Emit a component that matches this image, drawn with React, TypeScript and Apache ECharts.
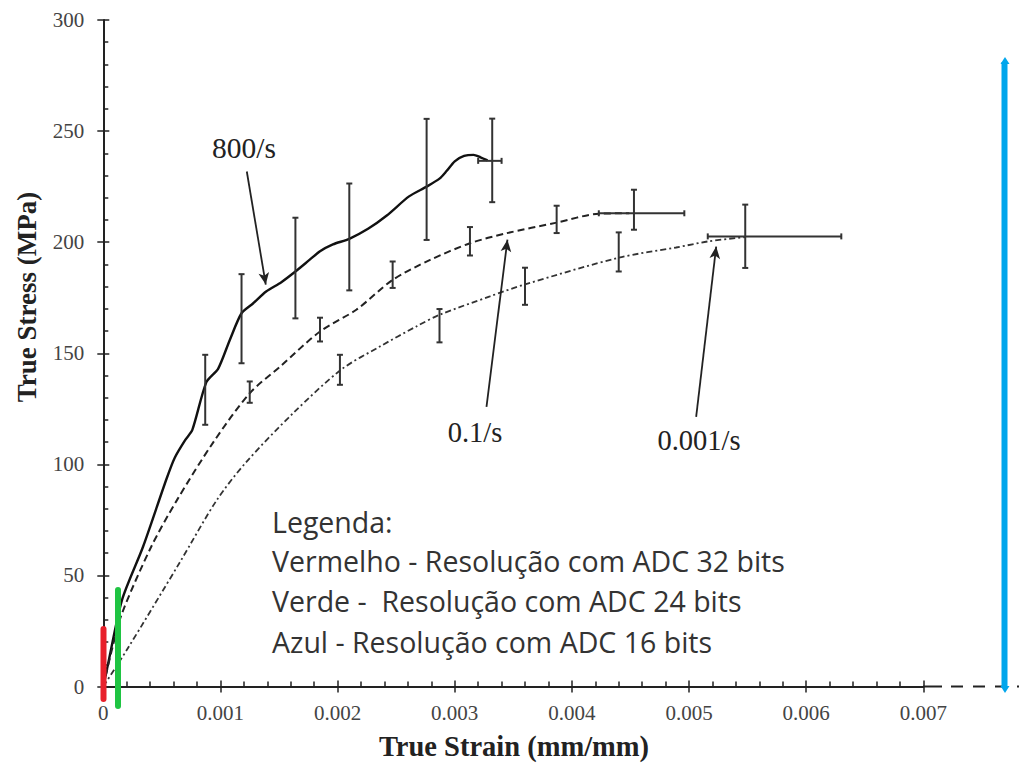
import React, { useEffect, useRef } from "react";
import * as echarts from "echarts";

// ---- data (strain in mm/mm, stress in MPa) ----
const s800X = [0, 0.00004, 0.00016, 0.00034, 0.00054, 0.00061, 0.0007, 0.00076, 0.00088, 0.00098, 0.00108, 0.00118, 0.00128, 0.00139, 0.00152, 0.00164, 0.00176, 0.00185, 0.00196, 0.0021, 0.00226, 0.00242, 0.00261, 0.00276, 0.00287, 0.00293, 0.003, 0.00308, 0.00316, 0.00322, 0.00328];
const s800Y = [0, 10, 39, 63, 93.5, 103, 111, 115.5, 137, 143, 156, 168, 172.5, 177.8, 182, 186.8, 192, 195.9, 199, 201.5, 206, 212, 220.6, 225, 228.6, 232, 236.4, 238.8, 239.3, 238.2, 236.8];

const s01X = [0, 0.00008, 0.00016, 0.00041, 0.00063, 0.00094, 0.00125, 0.00151, 0.00185, 0.00216, 0.00247, 0.00279, 0.00313, 0.00344, 0.00387, 0.00423, 0.00449];
const s01Y = [0, 18, 33, 63, 84, 110, 132, 144, 159.8, 169.6, 183, 192, 199.5, 204, 208.8, 212.8, 213];

const s001X = [0, 0.0002, 0.00065, 0.00097, 0.00122, 0.00162, 0.00203, 0.00236, 0.00267, 0.00287, 0.0033, 0.0036, 0.0044, 0.00489, 0.00517, 0.00548];
const s001Y = [0, 16.4, 55.6, 84, 101, 123, 142.6, 153, 162, 167.3, 175.6, 181, 193, 197.6, 200.4, 202.3];

// vertical error bars: strain, low, high
const err800 = [[0.00087, 117.8, 149.3], [0.00118, 145.5, 185.6], [0.00164, 165.7, 211], [0.0021, 178.3, 226.4], [0.00276, 201, 255.5], [0.00332, 218, 255.6]];
const err01 = [[0.00125, 127.7, 137.3], [0.00185, 155.3, 166], [0.00247, 179.4, 191.3], [0.00313, 194, 206.8], [0.00387, 204.1, 216.4], [0.00453, 205.6, 223.6]];
const err001 = [[0.00202, 135.8, 149.3], [0.00287, 154.9, 169.9], [0.0036, 171.8, 188.5], [0.0044, 186.8, 204.4], [0.00548, 188.4, 216.9]];
// horizontal error bars: stress, left strain, right strain
const errH = [[236.6, 0.0032, 0.0034], [213, 0.00423, 0.00496], [202.6, 0.00516, 0.0063]];

// annotation arrows [from, to] in data coords
const arrow800 = [[0.001225, 231.8], [0.001387, 180.9]];
const arrow01 = [[0.003271, 125.9], [0.00345, 201.1]];
const arrow001 = [[0.005061, 121.4], [0.005232, 198]];

const xTicks = ["0", "0.001", "0.002", "0.003", "0.004", "0.005", "0.006", "0.007"];
const legendLines = [
  "Legenda:",
  "Vermelho - Resolução com ADC 32 bits",
  "Verde -  Resolução com ADC 24 bits",
  "Azul - Resolução com ADC 16 bits",
];

const zip = (xs: number[], ys: number[]) => xs.map((x, i) => [x, ys[i]]);

const SERIF = "'Liberation Serif', 'Times New Roman', serif";
const INK = "#222";

function vErr(params: any, api: any) {
  const x = api.value(0);
  const lo = api.coord([x, api.value(1)]);
  const hi = api.coord([x, api.value(2)]);
  const c = 3;
  const st = { stroke: "#333", lineWidth: 2 };
  return {
    type: "group",
    children: [
      { type: "line", shape: { x1: lo[0], y1: lo[1], x2: hi[0], y2: hi[1] }, style: st },
      { type: "line", shape: { x1: lo[0] - c, y1: lo[1], x2: lo[0] + c, y2: lo[1] }, style: st },
      { type: "line", shape: { x1: hi[0] - c, y1: hi[1], x2: hi[0] + c, y2: hi[1] }, style: st },
    ],
  };
}
function hErr(params: any, api: any) {
  const y = api.value(0);
  const l = api.coord([api.value(1), y]);
  const r = api.coord([api.value(2), y]);
  const c = 3;
  const st = { stroke: "#333", lineWidth: 2 };
  return {
    type: "group",
    children: [
      { type: "line", shape: { x1: l[0], y1: l[1], x2: r[0], y2: r[1] }, style: st },
      { type: "line", shape: { x1: l[0], y1: l[1] - c, x2: l[0], y2: l[1] + c }, style: st },
      { type: "line", shape: { x1: r[0], y1: r[1] - c, x2: r[0], y2: r[1] + c }, style: st },
    ],
  };
}

const arrowLine = (a: number[][]) => ({
  silent: true,
  symbol: ["none", "arrow"],
  symbolSize: [8, 12],
  label: { show: false },
  lineStyle: { color: INK, width: 1.8, type: "solid" },
  data: [[{ coord: a[0] }, { coord: a[1] }]],
});

export default function App() {
  const ref = useRef<HTMLDivElement>(null);
  useEffect(() => {
    if (!ref.current) return;
    const chart = echarts.init(ref.current, null, { renderer: "svg" });
    const xBase = {
      type: "value",
      min: 0,
      max: 0.007,
      interval: 0.001,
      splitLine: { show: false },
    };
    const yBase = {
      type: "value",
      min: 0,
      max: 300,
      interval: 50,
      splitLine: { show: false },
    };
    chart.setOption({
      animation: false,
      backgroundColor: "#fff",
      grid: { left: 103.3, right: 95.7, top: 20, bottom: 78.5, containLabel: false },
      xAxis: [
        {
          ...xBase,
          axisLine: { show: true, lineStyle: { color: INK, width: 2 } },
          axisTick: { show: true, inside: true, length: 6, lineStyle: { color: INK, width: 1.5 } },
          minorTick: { show: true, splitNumber: 5, length: 5, lineStyle: { color: INK, width: 1.5 } },
          axisLabel: {
            margin: 16,
            color: "#444",
            fontFamily: SERIF,
            fontSize: 21,
            formatter: (v: number) => xTicks[Math.round(v / 0.001)] ?? "",
          },
        },
        {
          ...xBase,
          position: "bottom",
          axisLine: { show: false },
          axisTick: { show: true, inside: false, length: 6, lineStyle: { color: INK, width: 1.5 } },
          axisLabel: { show: false },
        },
      ],
      yAxis: [
        {
          ...yBase,
          axisLine: { show: true, lineStyle: { color: INK, width: 2 } },
          axisTick: { show: true, inside: true, length: 6, lineStyle: { color: INK, width: 1.5 } },
          minorTick: { show: true, splitNumber: 5, length: 5, lineStyle: { color: INK, width: 1.5 } },
          axisLabel: { margin: 19, color: "#444", fontFamily: SERIF, fontSize: 21 },
        },
        {
          ...yBase,
          position: "left",
          axisLine: { show: false },
          axisTick: { show: true, inside: false, length: 6, lineStyle: { color: INK, width: 1.5 } },
          axisLabel: { show: false },
        },
      ],
      series: [
        {
          type: "line",
          name: "800/s",
          data: zip(s800X, s800Y),
          showSymbol: false,
          smooth: 0.25,
          lineStyle: { color: "#111", width: 2.4 },
          markLine: arrowLine(arrow800),
          z: 3,
        },
        {
          type: "line",
          name: "0.1/s",
          data: zip(s01X, s01Y),
          showSymbol: false,
          smooth: 0.3,
          lineStyle: { color: "#222", width: 2, type: [7, 4] },
          markLine: arrowLine(arrow01),
          z: 3,
        },
        {
          type: "line",
          name: "0.001/s",
          data: zip(s001X, s001Y),
          showSymbol: false,
          smooth: 0.3,
          lineStyle: { color: "#333", width: 1.8, type: [6, 3, 2, 3] },
          markLine: arrowLine(arrow001),
          z: 3,
        },
        { type: "custom", data: [...err800, ...err01, ...err001], renderItem: vErr, encode: { x: 0, y: [1, 2] }, z: 4 },
        { type: "custom", data: errH, renderItem: hErr, encode: { x: [1, 2], y: 0 }, z: 4 },
      ],
      graphic: [
        // axis titles
        {
          type: "text",
          x: 514,
          y: 732,
          style: { text: "True Strain (mm/mm)", font: `bold 28.5px ${SERIF}`, fill: INK, align: "center", verticalAlign: "top" },
        },
        {
          type: "text",
          x: 27,
          y: 297,
          rotation: Math.PI / 2,
          style: { text: "True Stress (MPa)", font: `bold 27px ${SERIF}`, fill: INK, align: "center", verticalAlign: "middle" },
        },
        // curve labels
        { type: "text", x: 244, y: 148, style: { text: "800/s", font: `29.5px ${SERIF}`, fill: INK, align: "center", verticalAlign: "middle" } },
        { type: "text", x: 475, y: 432, style: { text: "0.1/s", font: `28.5px ${SERIF}`, fill: INK, align: "center", verticalAlign: "middle" } },
        { type: "text", x: 699, y: 440, style: { text: "0.001/s", font: `28.5px ${SERIF}`, fill: INK, align: "center", verticalAlign: "middle" } },
        // legend text
        ...legendLines.map((t, i) => ({
          type: "text",
          x: 272,
          y: [522, 561, 601, 642][i],
          style: { text: t, font: `28.5px 'Open Sans', sans-serif`, fill: "#333", align: "left", verticalAlign: "middle" },
        })),
        // x axis extension
        { type: "line", shape: { x1: 923, y1: 686.5, x2: 942, y2: 686.5 }, style: { stroke: INK, lineWidth: 2 } },
        { type: "line", shape: { x1: 951, y1: 686.5, x2: 1019, y2: 686.5 }, style: { stroke: INK, lineWidth: 2, lineDash: [12, 10] } },
        // coloured resolution bars
        { type: "line", shape: { x1: 103.5, y1: 629, x2: 103.5, y2: 699 }, style: { stroke: "#E8202B", lineWidth: 6, lineCap: "round" }, z: 10 },
        { type: "line", shape: { x1: 118, y1: 590, x2: 118, y2: 706 }, style: { stroke: "#1FC442", lineWidth: 6, lineCap: "round" }, z: 10 },
        { type: "line", shape: { x1: 1004.5, y1: 62, x2: 1004.5, y2: 688 }, style: { stroke: "#00A6EC", lineWidth: 6 }, z: 10 },
        { type: "polygon", shape: { points: [[1000.5, 64], [1005, 57], [1009.5, 64]] }, style: { fill: "#00A6EC" }, z: 10 },
        { type: "polygon", shape: { points: [[1000.5, 686], [1005, 693], [1009.5, 686]] }, style: { fill: "#00A6EC" }, z: 10 },
      ],
    });
    return () => chart.dispose();
  }, []);
  return <div ref={ref} style={{ width: 1019, height: 765, position: "absolute", left: 0, top: 0 }} />;
}
